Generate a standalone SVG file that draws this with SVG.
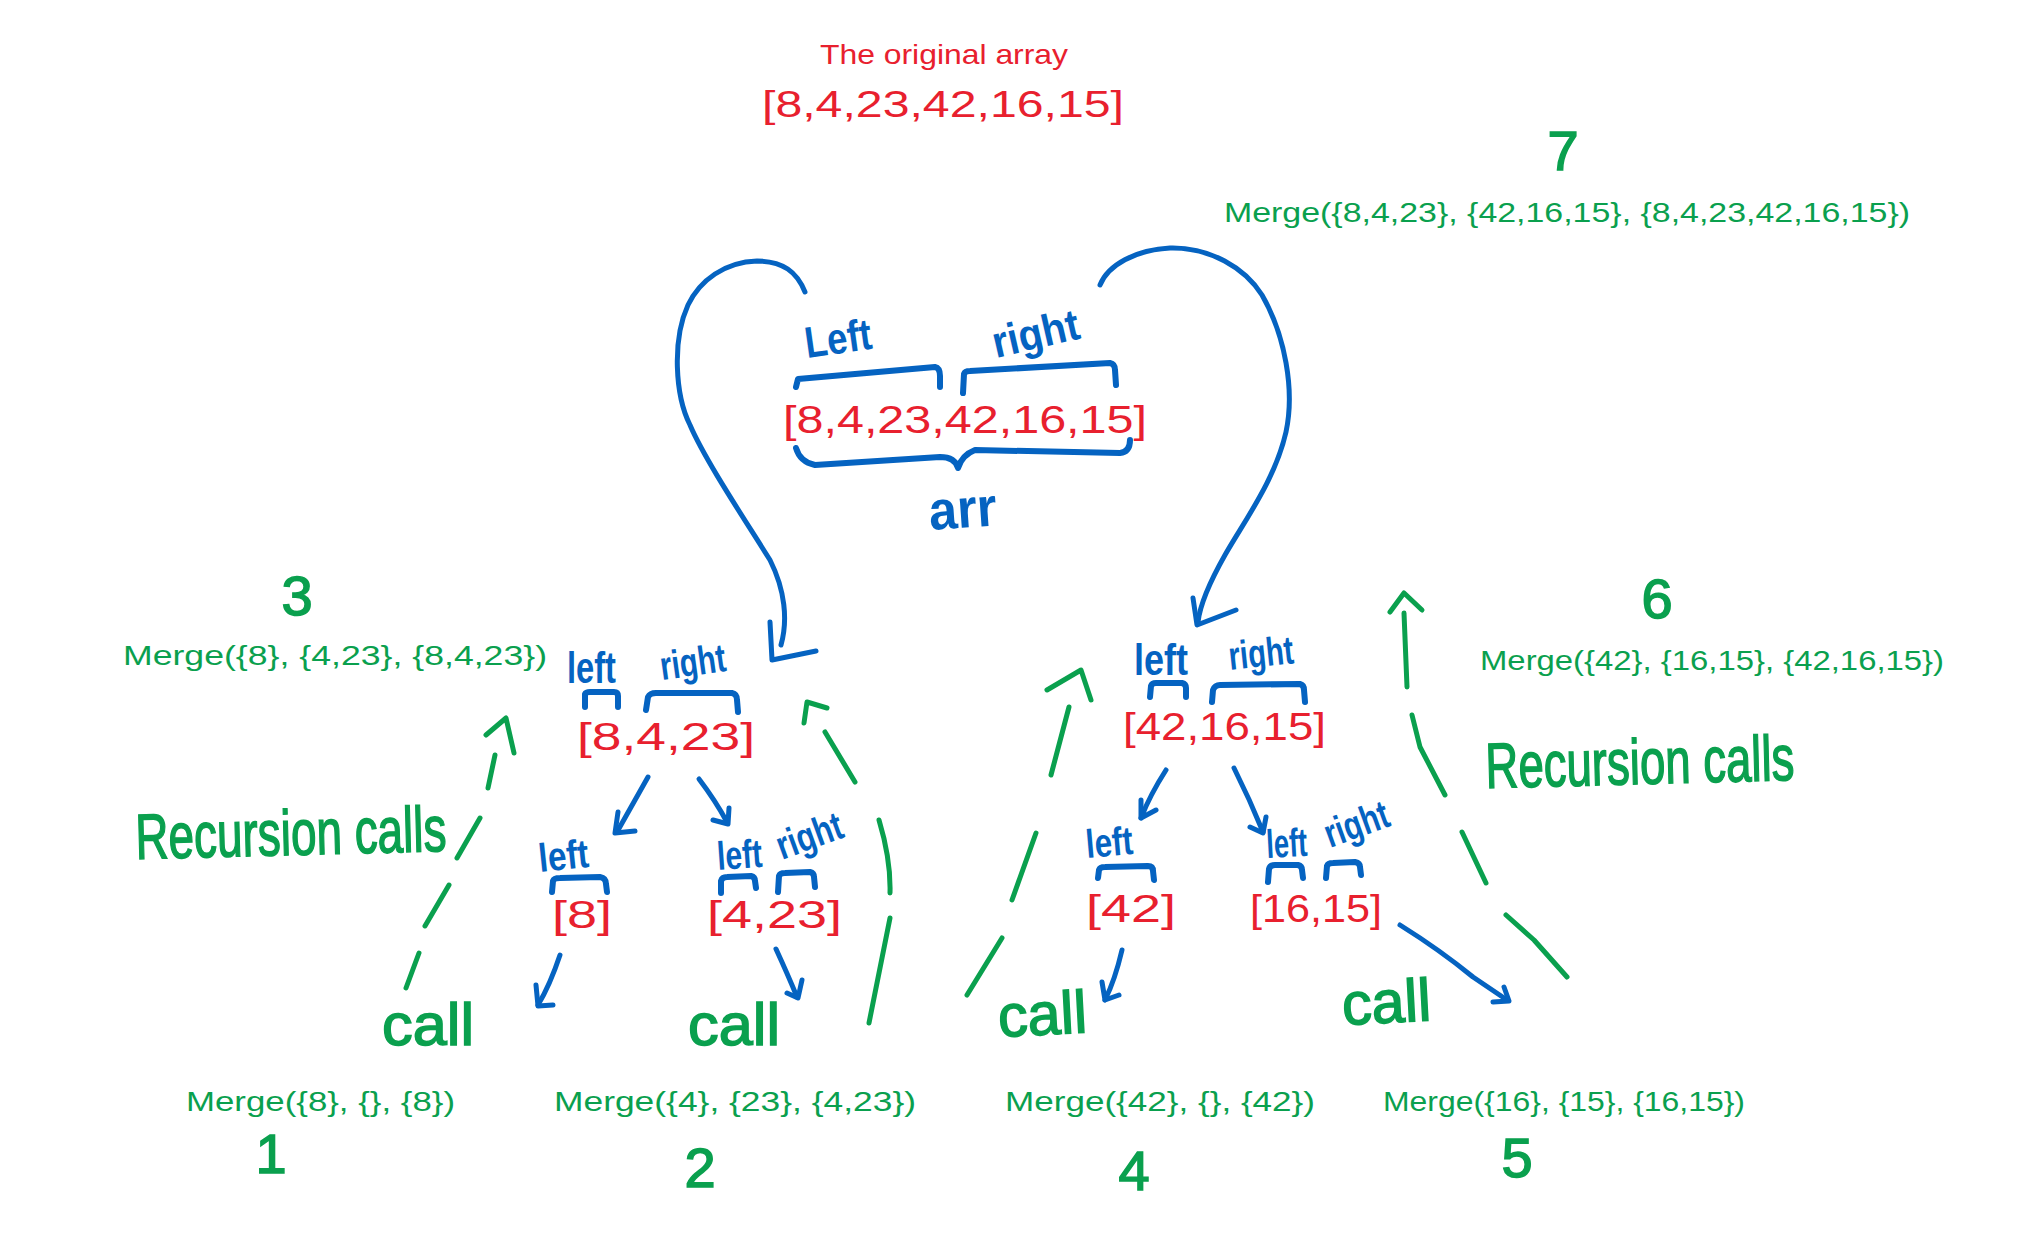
<svg xmlns="http://www.w3.org/2000/svg" width="2043" height="1241" viewBox="0 0 2043 1241">
<style>
text{font-family:"Liberation Sans",Arial,sans-serif}
.red{fill:#E8202E}
.arr{fill:#E8202E;font-size:38px}
.grn{fill:#0AA04E}
.num{fill:#0AA04E;font-size:56px;text-anchor:middle;stroke:#0AA04E;stroke-width:1.5}
.mrg{fill:#0AA04E;font-size:28px}
.call{fill:#0AA04E;font-size:60px;stroke:#0AA04E;stroke-width:1.5}
.rec{fill:#0AA04E;font-size:64px;stroke:#0AA04E;stroke-width:1.5}
.lbl{fill:#0563C1;font-weight:bold}
.br{fill:none;stroke:#0563C1;stroke-width:6;stroke-linecap:round;stroke-linejoin:round}
.bl{fill:none;stroke:#0563C1;stroke-width:5;stroke-linecap:round;stroke-linejoin:round}
.gd{fill:none;stroke:#0AA04E;stroke-width:5;stroke-linecap:round;stroke-linejoin:round}
</style>
<rect width="2043" height="1241" fill="#ffffff"/>

<g id="original">
<text class="red" x="820" y="64" font-size="28" textLength="248" lengthAdjust="spacingAndGlyphs">The original array</text>
<text class="red" x="762" y="117" font-size="36" textLength="362" lengthAdjust="spacingAndGlyphs">[8,4,23,42,16,15]</text>
</g>

<g id="step7">
<text class="num" x="1563" y="170" font-size="72">7</text>
<text class="mrg" x="1224" y="222" textLength="686" lengthAdjust="spacingAndGlyphs">Merge({8,4,23}, {42,16,15}, {8,4,23,42,16,15})</text>
</g>

<g id="root">
<text class="lbl" x="807" y="358" font-size="44" textLength="67" lengthAdjust="spacingAndGlyphs" transform="rotate(-8 807 358)">Left</text>
<text class="lbl" x="996" y="358" font-size="44" textLength="88" lengthAdjust="spacingAndGlyphs" transform="rotate(-13 996 358)">right</text>
<path class="br" d="M796,387 L798,379 L935,367 Q940,368 940,376 L940,387"/>
<path class="br" d="M963,393 L964,374 Q965,371 970,371 L1110,363 Q1115,364 1115,370 L1116,385"/>
<text class="arr" x="783" y="433" font-size="39" textLength="364" lengthAdjust="spacingAndGlyphs">[8,4,23,42,16,15]</text>
<path class="br" d="M796,448 Q800,462 815,465 L940,457 Q955,457 958,468 Q962,455 975,450 L1120,453 Q1130,452 1130,440"/>
<text class="lbl" x="930" y="530" font-size="55" textLength="68" lengthAdjust="spacingAndGlyphs" transform="rotate(-4 930 530)">arr</text>
</g>

<g id="step3">
<text class="num" x="297" y="615">3</text>
<text class="mrg" x="123" y="665" textLength="424" lengthAdjust="spacingAndGlyphs">Merge({8}, {4,23}, {8,4,23})</text>
</g>

<g id="node-8-4-23">
<text class="lbl" x="567" y="683" font-size="44" textLength="49" lengthAdjust="spacingAndGlyphs">left</text>
<text class="lbl" x="662" y="680" font-size="40" textLength="66" lengthAdjust="spacingAndGlyphs" transform="rotate(-8 662 680)">right</text>
<path class="br" d="M585,707 L585,694 Q586,692 590,692 L614,692 Q618,692 618,696 L618,707"/>
<path class="br" d="M646,710 L648,697 Q650,693 656,693 L732,693 Q737,694 737,700 L738,712"/>
<text class="arr" x="577" y="750" font-size="40" textLength="178" lengthAdjust="spacingAndGlyphs">[8,4,23]</text>
</g>

<g id="node-42-16-15">
<text class="lbl" x="1134" y="675" font-size="44" textLength="54" lengthAdjust="spacingAndGlyphs">left</text>
<text class="lbl" x="1230" y="670" font-size="40" textLength="65" lengthAdjust="spacingAndGlyphs" transform="rotate(-6 1230 670)">right</text>
<path class="br" d="M1150,697 L1151,686 Q1152,683 1156,683 L1182,683 Q1186,684 1186,688 L1186,697"/>
<path class="br" d="M1212,702 L1213,690 Q1215,685 1220,685 L1300,684 Q1304,685 1304,690 L1305,702"/>
<text class="arr" x="1123" y="740" font-size="40" textLength="203" lengthAdjust="spacingAndGlyphs">[42,16,15]</text>
</g>

<g id="step6">
<text class="num" x="1657" y="618">6</text>
<text class="mrg" x="1480" y="670" textLength="464" lengthAdjust="spacingAndGlyphs">Merge({42}, {16,15}, {42,16,15})</text>
</g>

<g id="node-8">
<text class="lbl" x="540" y="872" font-size="40" textLength="50" lengthAdjust="spacingAndGlyphs" transform="rotate(-6 540 872)">left</text>
<path class="br" d="M552,892 L553,881 Q554,878 560,878 L600,877 Q606,878 606,884 L607,892"/>
<text class="arr" x="552" y="928" textLength="60" lengthAdjust="spacingAndGlyphs">[8]</text>
</g>

<g id="node-4-23">
<text class="lbl" x="718" y="870" font-size="40" textLength="45" lengthAdjust="spacingAndGlyphs" transform="rotate(-4 718 870)">left</text>
<text class="lbl" x="782" y="860" font-size="40" textLength="68" lengthAdjust="spacingAndGlyphs" transform="rotate(-20 782 860)">right</text>
<path class="br" d="M721,893 L721,881 Q722,877 727,877 L751,876 Q755,877 755,881 L756,888"/>
<path class="br" d="M778,892 L779,876 Q780,873 785,873 L810,872 Q814,873 814,877 L815,887"/>
<text class="arr" x="707" y="928" textLength="135" lengthAdjust="spacingAndGlyphs">[4,23]</text>
</g>

<g id="node-42">
<text class="lbl" x="1087" y="858" font-size="40" textLength="47" lengthAdjust="spacingAndGlyphs" transform="rotate(-5 1087 858)">left</text>
<path class="br" d="M1098,878 L1099,870 Q1100,867 1105,867 L1148,866 Q1153,866 1153,871 L1154,880"/>
<text class="arr" x="1086" y="922" textLength="90" lengthAdjust="spacingAndGlyphs">[42]</text>
</g>

<g id="node-16-15">
<text class="lbl" x="1267" y="858" font-size="40" textLength="41" lengthAdjust="spacingAndGlyphs" transform="rotate(-3 1267 858)">left</text>
<text class="lbl" x="1330" y="848" font-size="40" textLength="66" lengthAdjust="spacingAndGlyphs" transform="rotate(-20 1330 848)">right</text>
<path class="br" d="M1268,882 L1269,869 Q1270,865 1275,865 L1298,865 Q1302,866 1302,870 L1303,878"/>
<path class="br" d="M1326,878 L1327,866 Q1328,863 1333,863 L1355,862 Q1360,863 1360,867 L1361,875"/>
<text class="arr" x="1250" y="922" textLength="132" lengthAdjust="spacingAndGlyphs">[16,15]</text>
</g>

<g id="recursion-left">
<text class="rec" x="136" y="859" textLength="311" lengthAdjust="spacingAndGlyphs" transform="rotate(-1.5 136 859)">Recursion calls</text>
</g>
<g id="recursion-right">
<text class="rec" x="1486" y="788" textLength="309" lengthAdjust="spacingAndGlyphs" transform="rotate(-1.5 1486 788)">Recursion calls</text>
</g>

<g id="call1"><text class="call" x="382" y="1045" textLength="92" lengthAdjust="spacingAndGlyphs">call</text></g>
<g id="call2"><text class="call" x="688" y="1045" textLength="92" lengthAdjust="spacingAndGlyphs">call</text></g>
<g id="call3"><text class="call" x="999" y="1037" textLength="89" lengthAdjust="spacingAndGlyphs" transform="rotate(-3 999 1037)">call</text></g>
<g id="call4"><text class="call" x="1343" y="1025" textLength="89" lengthAdjust="spacingAndGlyphs" transform="rotate(-3 1343 1025)">call</text></g>

<g id="step1">
<text class="mrg" x="186" y="1111" textLength="269" lengthAdjust="spacingAndGlyphs">Merge({8}, {}, {8})</text>
<text class="num" x="271" y="1173">1</text>
</g>
<g id="step2">
<text class="mrg" x="554" y="1111" textLength="362" lengthAdjust="spacingAndGlyphs">Merge({4}, {23}, {4,23})</text>
<text class="num" x="700" y="1187" font-size="52">2</text>
</g>
<g id="step4">
<text class="mrg" x="1005" y="1111" textLength="310" lengthAdjust="spacingAndGlyphs">Merge({42}, {}, {42})</text>
<text class="num" x="1134" y="1190" font-size="64">4</text>
</g>
<g id="step5">
<text class="mrg" x="1383" y="1111" textLength="362" lengthAdjust="spacingAndGlyphs">Merge({16}, {15}, {16,15})</text>
<text class="num" x="1517" y="1177" font-size="60">5</text>
</g>

<g id="connectors">
<path class="bl" d="M805,292 C797,272 783,261 757,261 C725,262 700,280 688,305 C672,340 675,395 690,425 C705,460 745,520 770,560 C785,590 788,620 781,645"/>
<path class="bl" d="M770,622 L772,660 L816,651"/>
<path class="bl" d="M1100,285 C1108,265 1135,250 1170,248 C1210,247 1245,268 1262,295 C1285,335 1295,390 1286,432 C1275,480 1245,520 1225,555 C1208,585 1200,605 1198,622"/>
<path class="bl" d="M1193,598 L1197,625 L1236,610"/>

<path class="bl" d="M648,777 L617,832"/>
<path class="bl" d="M618,812 L615,833 L635,831"/>
<path class="bl" d="M699,779 Q715,800 727,822"/>
<path class="bl" d="M713,820 L728,824 L729,808"/>
<path class="bl" d="M1166,770 Q1150,795 1141,818"/>
<path class="bl" d="M1141,800 L1141,818 L1156,810"/>
<path class="bl" d="M1234,768 Q1250,800 1263,832"/>
<path class="bl" d="M1250,827 L1263,833 L1266,817"/>
<path class="bl" d="M560,955 Q550,985 538,1005"/>
<path class="bl" d="M536,985 L538,1006 L553,1005"/>
<path class="bl" d="M776,949 Q788,975 797,997"/>
<path class="bl" d="M787,993 L798,998 L802,980"/>
<path class="bl" d="M1122,950 Q1115,980 1105,1000"/>
<path class="bl" d="M1102,982 L1105,1000 L1119,995"/>
<path class="bl" d="M1400,925 Q1440,950 1473,977 L1507,1000"/>
<path class="bl" d="M1493,1002 L1509,1001 L1504,987"/>

<path class="gd" d="M406,988 L419,953 M425,926 L449,885 M457,858 L480,818 M488,788 L495,755"/>
<path class="gd" d="M486,735 L506,718 L514,753"/>
<path class="gd" d="M869,1023 L890,918 M890,893 Q891,860 879,820 M855,782 L825,732"/>
<path class="gd" d="M804,723 L807,702 L827,708"/>
<path class="gd" d="M967,995 L1002,938 M1012,900 L1036,833 M1051,775 L1069,707"/>
<path class="gd" d="M1047,690 L1081,670 L1091,700"/>
<path class="gd" d="M1567,977 L1534,940 L1506,915 M1486,883 L1462,832 M1445,795 L1420,747 L1412,715 M1407,687 L1404,613"/>
<path class="gd" d="M1390,612 L1404,593 L1422,610"/>
</g>
</svg>
